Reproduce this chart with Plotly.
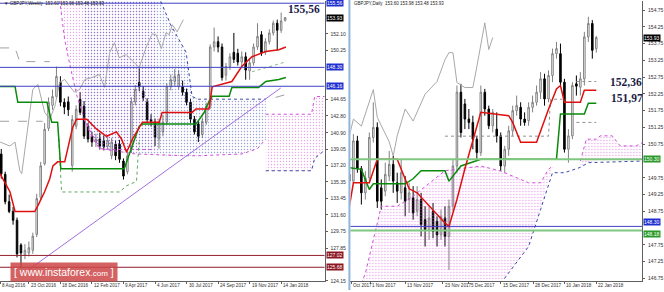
import plotly.graph_objects as go

# ---------------- LEFT PANEL (GBPJPY Weekly) ----------------
w_idx = list(range(1, 74))
w_open = [138.50,136.20,133.10,132.00,131.00,128.20,127.10,127.30,127.60,129.40,133.60,137.40,141.40,144.00,145.00,146.60,144.35,144.40,137.20,141.65,
          144.68,143.90,141.65,140.50,139.85,140.20,140.00,139.40,138.30,139.60,139.60,137.70,136.50,139.00,144.40,146.60,145.60,144.35,142.40,142.10,
          140.20,141.00,142.10,146.10,146.70,146.10,146.10,145.50,144.35,142.44,141.90,140.70,142.10,143.90,150.60,151.20,150.60,147.40,148.40,150.00,
          149.90,148.90,149.50,147.90,148.80,150.60,152.00,150.00,151.20,152.20,153.30,152.50,153.60]
w_high = [139.07,136.50,133.90,132.50,131.30,128.40,128.30,128.60,129.60,134.00,137.60,142.00,144.90,145.80,148.39,147.30,144.80,145.00,142.90,144.00,
          145.50,144.50,142.00,141.00,140.80,140.90,140.60,140.50,140.30,140.00,140.10,138.00,138.60,144.90,146.30,148.20,146.20,144.80,143.00,142.50,
          142.50,142.90,146.50,147.50,148.10,148.00,146.80,145.90,144.70,142.80,142.30,142.60,144.30,150.90,152.80,151.80,151.00,148.80,149.90,152.20,
          150.40,150.10,150.00,149.30,151.00,153.30,152.40,151.60,152.60,153.60,153.70,154.50,153.98]
w_low = [135.70,132.80,131.80,130.50,126.80,125.60,126.60,126.90,127.20,129.10,133.30,137.20,141.10,143.50,144.70,143.90,143.00,142.80,136.50,141.30,
         142.90,140.20,139.80,139.30,139.30,139.00,138.90,139.00,137.90,137.80,137.50,135.60,136.20,138.60,144.00,145.60,144.50,142.10,141.60,139.40,
         139.10,140.50,141.80,145.70,146.20,145.80,145.10,144.00,142.00,140.70,139.85,140.30,141.80,143.60,150.10,150.00,146.80,146.80,148.00,148.80,
         148.50,148.30,146.90,146.90,148.50,150.30,149.60,149.70,150.90,151.90,150.20,152.20,153.48]
w_close = [136.26,133.10,132.00,131.00,127.20,127.30,127.60,127.90,129.20,133.45,137.16,141.30,144.35,145.00,147.27,144.35,143.80,143.50,142.40,143.56,
           143.22,140.53,140.19,139.85,140.19,139.40,139.30,140.00,139.85,138.30,137.90,136.00,138.30,144.40,145.80,146.10,144.90,142.40,142.20,140.40,
           142.10,142.10,146.10,146.90,147.30,147.50,145.50,144.35,142.44,141.00,140.50,142.20,143.90,150.60,151.20,150.60,147.15,148.40,149.50,149.20,
           148.90,149.50,148.00,148.80,150.60,151.80,149.97,151.20,152.20,153.30,152.50,153.55,153.93]

w_tenkan_x = [0.7,3.2,4.5,9.5,10.3,12.0,13.3,14.1,15.3,17.1,19.1,20.1,22.7,25.2,27.7,30.2,31.5,32.8,34.3,36.8,41.1,41.8,49.4,50.4,53.7,54.5,59.5,62.0,64.6,65.8,68.1,71.4,73.2]
w_tenkan_y = [136.26,134.23,131.99,131.99,132.66,134.23,135.70,137.16,137.61,137.61,141.50,142.44,142.44,141.30,140.50,141.00,140.20,138.70,140.20,142.10,142.10,143.20,143.20,143.60,143.60,146.10,146.70,148.40,149.50,149.70,150.10,150.30,150.60]
w_kijun_x = [0.7,4.5,5.2,12.6,13.8,15.3,16.1,32.2,33.5,34.8,36.0,36.8,50.4,52.5,53.7,54.5,58.8,59.5,66.3,68.1,71.4,73.2]
w_kijun_y = [146.14,146.14,144.35,144.35,142.10,142.10,136.82,136.82,138.50,140.19,141.65,141.88,141.88,143.22,144.46,145.02,145.02,146.03,146.03,146.70,146.93,147.16]
w_chikou_x = [0.7,3.2,4.5,5.7,6.2,7.5,9.0,10.3,12.0,13.3,14.6,15.8,17.1,18.4,19.6,20.9,22.2,24.0,25.9,27.2,28.5,29.7,30.9,32.7,34.3,36.0,37.8,39.3,40.3,41.6,42.8,43.6,44.4,45.6,47.2]
w_chikou_y = [139.85,139.40,139.85,136.60,136.26,140.53,145.81,146.37,143.22,142.44,143.90,146.59,146.93,146.14,145.48,145.81,146.93,147.15,147.49,146.03,149.97,151.09,149.40,149.74,149.06,148.28,150.64,152.10,151.99,150.42,152.21,151.99,153.12,152.32,153.70]

# kumo areas (upper / lower edges)
w_cloud_pink1_x = [15.8,17.1,18.4,20.1,22.1,24.0,25.9,30.0,40.0]
w_cloud_pink1_top = [157.0,157.0,157.0,157.0,157.0,157.0,157.0,157.0,157.0]
w_cloud_pink1_bot = [155.9,151.4,148.6,145.2,142.4,140.4,139.1,139.0,139.0]
w_cloud_blue_x = [22.0,26.0,35.0,40.3,44.0,47.9,49.4,51.0,62.0,66.0,68.1]
w_cloud_blue_top = [157.0,157.0,157.0,157.0,153.1,150.0,145.0,144.7,144.7,144.7,144.7]
w_cloud_blue_bot = [142.4,139.1,138.5,138.4,138.3,138.3,138.3,138.3,138.5,139.1,140.2]
w_cloud_pink2_x = [68.1,76.4,79.7,80.5,83.5]
w_cloud_pink2_top = [143.0,143.0,143.0,145.0,145.0]
w_cloud_pink2_bot = [136.6,136.6,136.6,138.0,139.1]

w_trend_x = [5.7, 71.9]
w_trend_y = [124.68, 145.97]
w_green_dot_x = [15.6,16.3,31.0,32.8,35.3,36.0]
w_green_dot_y = [140.2,134.2,134.2,134.9,135.4,140.2]
w_green_dot2_x = [64.6,73.4]
w_green_dot2_y = [147.8,148.95]
w_grey_dash_x = [0.7,4.5,5.7,13.3]
w_grey_dash_y = [150.5,150.5,148.95,148.95]
w_grey_dash2_x = [0.7,11.5]
w_grey_dash2_y = [142.2,142.2]
w_grey_dash3_x = [70.6,73.4]
w_grey_dash3_y = [144.9,145.25]

w_levels_blue = [155.56, 148.30, 146.16]
w_levels_red = [127.02, 125.68]
w_ticks = [152.10,150.25,144.65,142.80,140.90,139.05,137.20,135.35,133.45,131.60,129.75,127.85,124.15]
w_xtick_pos = [0.75,8,16,24,32,40,48,56,64,72]
w_xtick_txt = ["8 Aug 2016","23 Oct 2016","18 Dec 2016","12 Feb 2017","9 Apr 2017","4 Jun 2017","30 Jul 2017","24 Sep 2017","19 Nov 2017","14 Jan 2018"]

# ---------------- RIGHT PANEL (GBPJPY Daily) ----------------
d_idx = list(range(6, 69))
d_open = [149.85,149.65,150.85,150.02,149.30,149.75,150.95,151.25,149.45,149.35,149.80,150.15,149.60,149.30,149.45,149.10,149.15,148.75,149.10,148.50,
          148.20,148.75,148.45,148.05,148.55,148.00,148.90,150.10,152.30,151.95,151.50,151.40,150.90,150.50,152.30,151.80,151.30,151.20,151.00,150.10,
          150.60,151.15,151.75,151.85,151.50,151.45,151.85,152.00,152.30,152.70,152.10,152.80,153.45,153.45,152.60,150.60,151.00,152.55,152.45,152.70,
          153.95,154.35,153.60]
d_high = [150.00,151.05,151.00,150.10,149.95,151.10,152.00,151.40,149.70,150.20,150.55,150.40,149.90,150.30,149.80,149.60,149.50,149.50,149.30,148.90,
          148.90,149.00,148.60,148.80,148.90,149.10,150.30,152.50,152.55,152.10,151.80,151.60,151.00,152.50,152.40,151.90,151.80,151.70,151.10,150.70,
          151.30,151.90,152.20,152.00,151.70,152.00,152.20,152.50,152.90,152.85,152.95,153.60,153.80,153.75,152.70,151.20,152.60,152.80,152.90,154.10,
          154.55,154.45,153.98]
d_low = [149.50,149.55,149.90,148.95,149.10,149.65,150.80,148.85,148.80,149.20,149.65,149.30,149.00,149.10,148.60,148.70,148.50,148.60,148.00,147.70,
         147.90,147.95,147.70,147.90,147.70,147.00,148.75,149.90,150.95,151.20,151.20,150.60,150.30,150.40,151.60,151.20,151.10,150.80,149.95,149.90,
         150.40,151.00,151.60,151.30,151.30,151.30,151.70,151.90,152.10,151.90,152.00,152.60,153.30,152.50,150.50,150.20,150.90,152.20,152.20,152.50,
         153.80,153.30,153.48]
d_close = [149.65,150.85,150.02,149.30,149.75,150.95,151.25,149.05,149.05,149.85,150.15,149.65,149.35,149.90,149.05,149.30,148.70,149.10,148.35,148.20,
           148.55,148.15,148.05,148.60,148.00,148.90,150.10,152.30,151.10,151.50,151.40,150.90,150.50,152.30,151.80,151.30,151.70,151.00,150.10,150.60,
           151.15,151.75,151.90,151.50,151.40,151.85,152.00,152.30,152.70,152.10,152.80,153.45,153.60,152.60,150.60,151.00,152.50,152.48,152.70,153.95,
           154.35,153.55,153.93]

d_tenkan_x = [6,7,11,13,18,21,23,26,30,31,33,35,37,39,46,47,49,53,56,58,59,60,64,65,68]
d_tenkan_y = [148.90,149.60,149.60,150.30,150.30,149.42,149.30,148.90,148.40,148.30,149.10,150.02,150.90,151.70,151.60,151.40,150.81,150.81,151.79,152.40,152.50,152.00,152.00,152.36,152.36]
d_kijun_x = [6,9,11,12,20,22,24,30,31,34,39,58,59,65,66,68]
d_kijun_y = [150.05,150.00,149.40,149.57,149.57,149.72,149.96,149.96,149.65,150.10,150.30,150.30,151.65,151.65,151.97,151.97]
d_chikou_x = [6,7,9,12,13,16,17,18,20,22,25,28,30,31,32,33,35,37,38,39,40,41,42]
d_chikou_y = [151.00,151.50,151.29,152.38,151.55,150.82,150.40,151.00,151.80,151.44,152.24,152.62,153.27,153.48,153.48,152.59,152.44,152.44,153.06,153.77,154.37,153.57,153.93]

d_cloud1_x = [9,10,12,14,18,22,30,33,39,44,51,54,56,57]
d_cloud1_top = [146.6,146.9,147.9,148.9,148.9,149.2,149.96,150.0,150.1,149.95,149.6,149.6,150.0,150.1]
d_cloud1_bot = [146.0,146.0,146.0,146.0,146.0,146.0,146.0,146.0,146.0,146.6,147.7,148.8,149.7,150.05]
d_cloud2_x = [64,65.5,68,69,72,74,78,80]
d_cloud2_top = [150.25,150.9,150.9,151.0,151.0,150.7,150.7,150.82]
d_cloud2_bot = [150.06,150.2,150.25,150.25,150.25,150.25,150.25,150.25]
d_spana_x = [44,51,54,57,60,64,66,80]
d_spana_y = [146.6,147.7,148.8,149.9,149.9,150.06,150.2,150.25]
d_grey_dot1_x = [30,56,56.5,59.5]
d_grey_dot1_y = [150.99,150.99,152.09,152.09]
d_grey_dot2_x = [63,68]
d_grey_dot2_y = [152.62,152.62]
d_grey_dot3_x = [63,68]
d_grey_dot3_y = [151.40,151.40]

d_levels_green = [150.30, 148.18]
d_levels_blue = [148.30]
d_ticks = [154.75,154.25,153.75,153.25,152.75,152.25,151.75,151.25,150.75,149.75,149.25,148.75,147.75,147.25,146.75]
d_xtick_pos = [6.4,11.2,20,29.5,36,44,52.2,60,68]
d_xtick_txt = ["Oct 2017","1 Nov 2017","13 Nov 2017","23 Nov 2017","5 Dec 2017","15 Dec 2017","28 Dec 2017","10 Jan 2018","22 Jan 2018"]

# ---------------- FIGURE ----------------
fig = go.Figure()

def add_cloud(xs, top, bot, color, xa, ya, solidity):
    fig.add_trace(go.Scatter(
        x=list(xs) + list(xs)[::-1], y=list(top) + list(bot)[::-1],
        fill='toself', mode='lines', line=dict(width=0, color='rgba(0,0,0,0)'),
        fillcolor='rgba(0,0,0,0)',
        fillpattern=dict(shape='.', fgcolor=color, size=3, solidity=solidity),
        xaxis=xa, yaxis=ya, hoverinfo='skip', showlegend=False))

def add_line(xs, ys, color, width, dash, xa, ya):
    fig.add_trace(go.Scatter(x=xs, y=ys, mode='lines', line=dict(color=color, width=width, dash=dash),
                             xaxis=xa, yaxis=ya, hoverinfo='skip', showlegend=False))

PINK = '#d050d8'
BLUE_DOT = '#3848a8'

# left clouds
add_cloud(w_cloud_pink1_x, w_cloud_pink1_top, w_cloud_pink1_bot, PINK, 'x', 'y', 0.16)
add_cloud(w_cloud_blue_x, w_cloud_blue_top, w_cloud_blue_bot, BLUE_DOT, 'x', 'y', 0.2)
add_cloud(w_cloud_pink2_x, w_cloud_pink2_top, w_cloud_pink2_bot, PINK, 'x', 'y', 0.18)
add_line(w_cloud_pink1_x, w_cloud_pink1_bot, PINK, 1, 'dot', 'x', 'y')
add_line(w_cloud_blue_x, w_cloud_blue_top, BLUE_DOT, 1, 'dot', 'x', 'y')
add_line(w_cloud_blue_x, w_cloud_blue_bot, PINK, 1, 'dot', 'x', 'y')
add_line(w_cloud_pink2_x, w_cloud_pink2_top, PINK, 1, 'dot', 'x', 'y')
add_line(w_cloud_pink2_x, w_cloud_pink2_bot, BLUE_DOT, 1, 'dot', 'x', 'y')

# right clouds
add_cloud(d_cloud1_x, d_cloud1_top, d_cloud1_bot, PINK, 'x2', 'y2', 0.2)
add_cloud(d_cloud2_x, d_cloud2_top, d_cloud2_bot, PINK, 'x2', 'y2', 0.2)
add_line(d_cloud1_x, d_cloud1_top, PINK, 1, 'dot', 'x2', 'y2')
add_line(d_cloud2_x, d_cloud2_top, PINK, 1, 'dot', 'x2', 'y2')
add_line(d_spana_x, d_spana_y, BLUE_DOT, 1, 'dot', 'x2', 'y2')

# misc dotted lines
add_line(w_green_dot_x, w_green_dot_y, '#5aa85a', 1, 'dot', 'x', 'y')
add_line(w_green_dot2_x, w_green_dot2_y, '#8ab88a', 1, 'dot', 'x', 'y')
add_line(w_grey_dash_x, w_grey_dash_y, '#a0a0a0', 1, 'dash', 'x', 'y')
add_line(w_grey_dash2_x, w_grey_dash2_y, '#a0a0a0', 1, 'dash', 'x', 'y')
add_line(w_grey_dash3_x, w_grey_dash3_y, '#a0a0a0', 1, 'dash', 'x', 'y')
add_line(d_grey_dot1_x, d_grey_dot1_y, '#909090', 1, 'dot', 'x2', 'y2')
add_line(d_grey_dot2_x, d_grey_dot2_y, '#909090', 1, 'dot', 'x2', 'y2')
add_line(d_grey_dot3_x, d_grey_dot3_y, '#909090', 1, 'dot', 'x2', 'y2')

# trend line
add_line(w_trend_x, w_trend_y, '#a070e0', 1, 'solid', 'x', 'y')

# ichimoku lines
add_line(w_chikou_x, w_chikou_y, '#a8a8a8', 1, 'solid', 'x', 'y')
add_line(w_kijun_x, w_kijun_y, '#0a8a0a', 1.5, 'solid', 'x', 'y')
add_line(w_tenkan_x, w_tenkan_y, '#e01010', 1.5, 'solid', 'x', 'y')
add_line(d_chikou_x, d_chikou_y, '#a8a8a8', 1, 'solid', 'x2', 'y2')
add_line(d_kijun_x, d_kijun_y, '#0a8a0a', 1.5, 'solid', 'x2', 'y2')
add_line(d_tenkan_x, d_tenkan_y, '#e01010', 1.5, 'solid', 'x2', 'y2')

candle_style = dict(
    increasing=dict(line=dict(color='#808080', width=1), fillcolor='white'),
    decreasing=dict(line=dict(color='black', width=1), fillcolor='black'),
    whiskerwidth=0, showlegend=False, hoverinfo='skip')
fig.add_trace(go.Candlestick(x=w_idx, open=w_open, high=w_high, low=w_low, close=w_close,
                             xaxis='x', yaxis='y', **candle_style))
fig.add_trace(go.Candlestick(x=d_idx, open=d_open, high=d_high, low=d_low, close=d_close,
                             xaxis='x2', yaxis='y2', **candle_style))

# horizontal levels
shapes = []
for lv in w_levels_blue:
    shapes.append(dict(type='line', xref='x domain', x0=0, x1=1, yref='y', y0=lv, y1=lv, line=dict(color='#4040c8', width=1)))
for lv in w_levels_red:
    shapes.append(dict(type='line', xref='x domain', x0=0, x1=1, yref='y', y0=lv, y1=lv, line=dict(color='#902030', width=1)))
for lv in d_levels_green:
    shapes.append(dict(type='line', xref='x2 domain', x0=0, x1=1, yref='y2', y0=lv, y1=lv, line=dict(color='#80c880', width=2)))
for lv in d_levels_blue:
    shapes.append(dict(type='line', xref='x2 domain', x0=0, x1=1, yref='y2', y0=lv, y1=lv, line=dict(color='#4040c8', width=1)))
# window separator
shapes.append(dict(type='line', xref='paper', x0=351/664, x1=351/664, yref='paper', y0=0, y1=1, line=dict(color='#90b4dc', width=2)))

TICKFONT = dict(family='Liberation Sans', size=5, color='#303030')
ax_common = dict(showgrid=False, zeroline=False, showline=True, linecolor='#606060', linewidth=1,
                 ticks='outside', ticklen=2, tickcolor='#606060', tickfont=TICKFONT)
ydom = [9/292, 291/292]

fig.update_layout(
    width=664, height=292, margin=dict(l=0, r=0, t=0, b=0),
    paper_bgcolor='white', plot_bgcolor='white', showlegend=False, boxgap=0.45,
    xaxis=dict(domain=[0, 326/664], range=[0.68, 83.0], anchor='y', tickvals=w_xtick_pos, showticklabels=False,
               rangeslider=dict(visible=False), **ax_common),
    yaxis=dict(domain=ydom, range=[124.12, 155.81], anchor='x', side='right', tickvals=w_ticks,
               ticktext=[f"{t:.2f}" for t in w_ticks], ticklabelstandoff=2, **ax_common),
    xaxis2=dict(domain=[352/664, 645/664], range=[6.25, 79.5], anchor='y2', tickvals=d_xtick_pos, showticklabels=False,
                rangeslider=dict(visible=False), **ax_common),
    yaxis2=dict(domain=ydom, range=[146.67, 155.02], anchor='x2', side='right', tickvals=d_ticks,
                ticktext=[f"{t:.2f}" for t in d_ticks], ticklabelstandoff=2, **ax_common),
    shapes=shapes,
)

ann = []
# date labels, left-aligned at their tick like the terminal does
XLAB = dict(family='Liberation Sans', size=4.6, color='#303030')
for pos, txt in zip(w_xtick_pos, w_xtick_txt):
    ann.append(dict(xref='x', x=pos, yref='paper', y=1-287/292, text=txt, showarrow=False,
                    xanchor='left', yanchor='middle', font=XLAB))
for pos, txt in zip(d_xtick_pos, d_xtick_txt):
    ann.append(dict(xref='x2', x=pos, yref='paper', y=1-287/292, text=txt, showarrow=False,
                    xanchor='left', yanchor='middle', font=XLAB))

def box(xref, xpos, yref, val, bg, fg='white', ya='middle'):
    ann.append(dict(xref=xref, x=xpos, yref=yref, y=val, text=f"{val:.2f}", showarrow=False, xanchor='left',
                    yanchor=ya, font=dict(family='Liberation Sans', size=5, color=fg), bgcolor=bg, borderpad=0))

for lv in w_levels_blue:
    box('paper', 327/664, 'y', lv, '#2030d0')
box('paper', 327/664, 'y', 153.93, '#000000')
for lv in w_levels_red:
    box('paper', 327/664, 'y', lv, '#8b1520')
box('paper', 646/664, 'y2', 153.93, '#000000')
box('paper', 646/664, 'y2', 150.30, '#2a9a2a')
box('paper', 646/664, 'y2', 148.30, '#2030d0', ya='bottom')
box('paper', 646/664, 'y2', 148.18, '#2a9a2a', ya='top')

BIG = dict(family='Liberation Serif', size=11.5, color='#1c1c48')
ann.append(dict(xref='x', x=82.3, yref='y', y=154.85, text='<b>155,56</b>', showarrow=False, xanchor='right', font=BIG))
ann.append(dict(xref='x2', x=71.0, yref='y2', y=152.6, text='<b>152,36</b>', showarrow=False, xanchor='left', font=BIG))
ann.append(dict(xref='x2', x=71.2, yref='y2', y=152.12, text='<b>151,97</b>', showarrow=False, xanchor='left', font=BIG))

HDR = dict(family='Liberation Sans', size=4.5, color='#202020')
ann.append(dict(xref='paper', x=2/664, yref='paper', y=1-4/292, text='\u25bc GBPJPY,Weekly  153.60 153.98 153.48 153.93',
                showarrow=False, xanchor='left', yanchor='middle', font=HDR))
ann.append(dict(xref='paper', x=354/664, yref='paper', y=1-4/292, text='GBPJPY,Daily  153.60 153.98 153.48 153.93',
                showarrow=False, xanchor='left', yanchor='middle', font=HDR))
ann.append(dict(xref='paper', x=10/664, yref='paper', y=1-274/292,
                text='[ www.instaforex<span style="font-size:8px">.com</span> ]', showarrow=False, xanchor='left', yanchor='middle',
                font=dict(family='Liberation Sans', size=10.5, color='white'), bgcolor='rgba(205,70,70,0.85)', borderpad=3))
fig.update_layout(annotations=ann)

fig.write_html("out.html")
